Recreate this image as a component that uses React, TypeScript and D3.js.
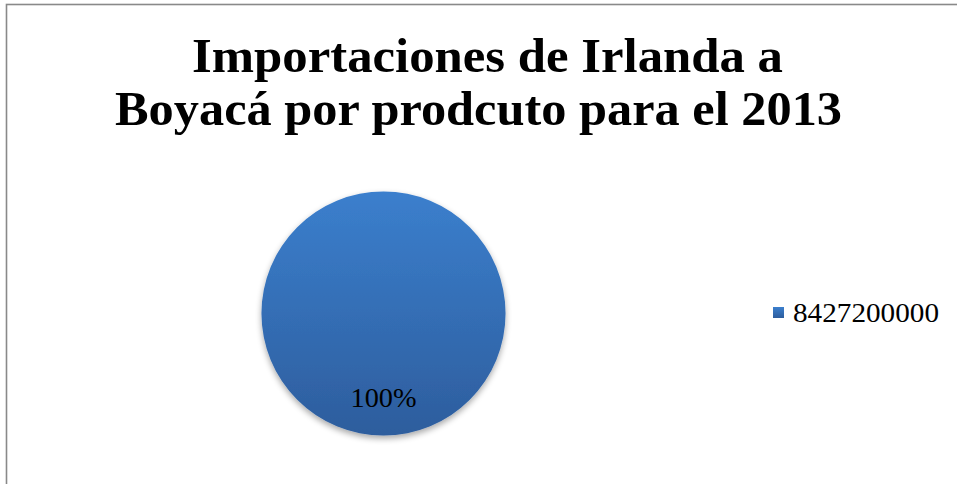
import React from "react";
import * as d3 from "d3";

const titleLines = ["Importaciones de Irlanda a", "Boyacá por prodcuto para el 2013"];
const categories = ["8427200000"];
const values = [1];

const W = 957;
const H = 484;

export default function App() {
  const cx = 383.5;
  const cy = 313.5;
  const r = 122;
  const pie = d3.pie<number>().sort(null).value((d) => d);
  const arcs = pie(values);
  const arcGen = d3.arc<d3.PieArcDatum<number>>().innerRadius(0).outerRadius(r);
  const total = d3.sum(values);
  const pct = d3.format(".0%");
  const serif = "'Liberation Serif', 'DejaVu Serif', serif";

  return (
    <svg
      width={W}
      height={H}
      style={{ position: "absolute", left: 0, top: 0, display: "block", background: "#fff" }}
    >
      <defs>
        <linearGradient id="pieGrad" x1="0" y1="0" x2="0" y2="1">
          <stop offset="0" stopColor="#3b7fcd" />
          <stop offset="1" stopColor="#2d5d9d" />
        </linearGradient>
        <filter id="shadow" x="-20%" y="-20%" width="140%" height="150%">
          <feGaussianBlur in="SourceAlpha" stdDeviation="3" />
          <feOffset dx="0" dy="3" result="b" />
          <feComponentTransfer>
            <feFuncA type="linear" slope="0.35" />
          </feComponentTransfer>
          <feMerge>
            <feMergeNode />
            <feMergeNode in="SourceGraphic" />
          </feMerge>
        </filter>
      </defs>
      <rect x={6.5} y={4.5} width={1200} height={800} fill="#fff" stroke="#898989" strokeWidth={1.6} />
      <text
        x={487.5}
        y={72}
        textAnchor="middle"
        fontFamily={serif}
        fontWeight="bold"
        fontSize={48}
        textLength={591}
        lengthAdjust="spacingAndGlyphs"
        fill="#000"
      >
        {titleLines[0]}
      </text>
      <text
        x={478.5}
        y={125}
        textAnchor="middle"
        fontFamily={serif}
        fontWeight="bold"
        fontSize={48}
        textLength={727}
        lengthAdjust="spacingAndGlyphs"
        fill="#000"
      >
        {titleLines[1]}
      </text>
      <g transform={`translate(${cx},${cy})`}>
        {arcs.map((a, i) => (
          <g key={i}>
            <path d={arcGen(a) || ""} fill="url(#pieGrad)" filter="url(#shadow)" />
            <text
              x={0}
              y={r * 0.77}
              textAnchor="middle"
              fontFamily={serif}
              fontSize={27}
              textLength={66}
              lengthAdjust="spacingAndGlyphs"
              fill="#000"
            >
              {pct(a.value / total)}
            </text>
          </g>
        ))}
      </g>
      <g>
        {categories.map((c, i) => (
          <g key={c} transform={`translate(773,${307 + i * 30})`}>
            <rect x={0} y={0} width={11} height={11} fill="url(#pieGrad)" />
            <text
              x={20}
              y={15}
              fontFamily={serif}
              fontSize={27}
              textLength={146}
              lengthAdjust="spacingAndGlyphs"
              fill="#000"
            >
              {c}
            </text>
          </g>
        ))}
      </g>
    </svg>
  );
}
